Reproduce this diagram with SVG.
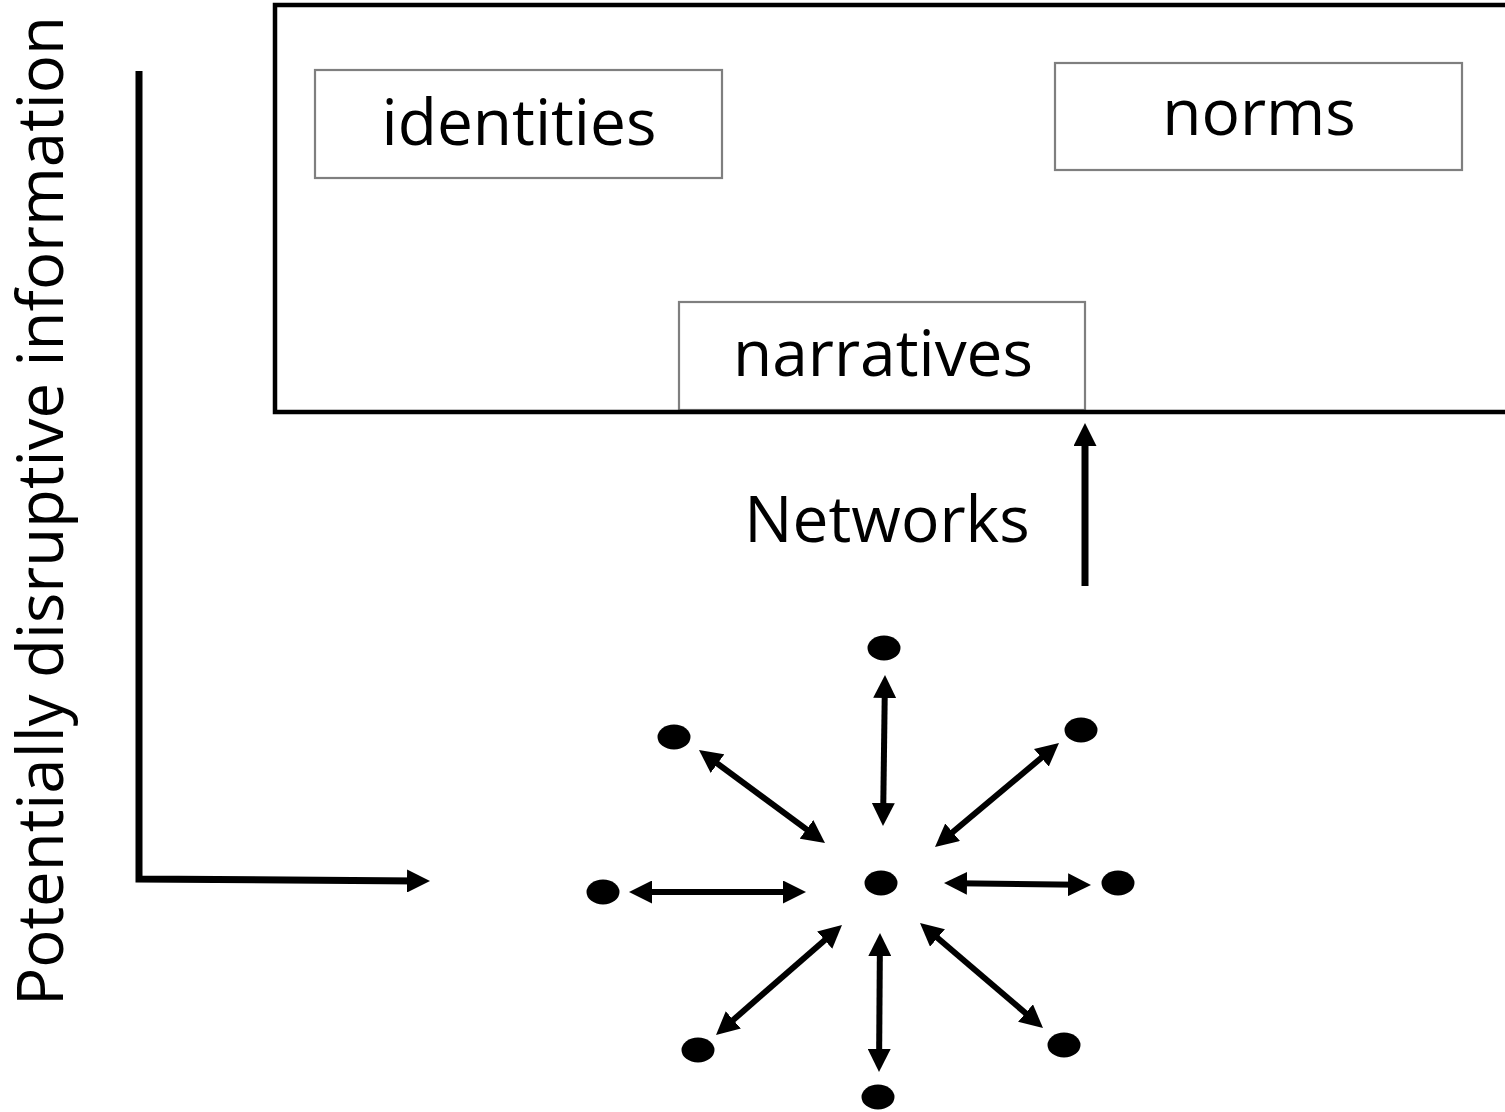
<svg xmlns="http://www.w3.org/2000/svg" width="1505" height="1112" viewBox="0 0 1505 1112">
  <style>
    .lbl { font-family: "Open Sans", "Liberation Sans", sans-serif; font-size: 64px; fill: #000; }
    .box { fill: #fff; stroke: #7f7f7f; stroke-width: 2.2; }
    .frame { fill: none; stroke: #000; stroke-width: 4.5; }
    .dot { fill: #000; }
    .link { stroke: #000; stroke-width: 6; fill: none; marker-start: url(#head); marker-end: url(#head); }
    .one { stroke: #000; stroke-width: 7; fill: none; stroke-linejoin: miter; marker-end: url(#head); }
  </style>
  <defs>
    <marker id="head" viewBox="0 0 23 23" refX="11" refY="11.5" markerWidth="23" markerHeight="23" markerUnits="userSpaceOnUse" orient="auto-start-reverse">
      <path d="M0,0 L23,11.5 L0,23 Z" fill="#000"/>
    </marker>
  </defs>

  <!-- vertical axis label -->
  <g id="axis-label">
    <text class="lbl" transform="translate(63,511) rotate(-90)" text-anchor="middle" textLength="990" lengthAdjust="spacingAndGlyphs">Potentially disruptive information</text>
  </g>

  <!-- concept boxes -->
  <g id="identities">
    <rect class="box" x="315" y="70" width="407" height="108"/>
    <text class="lbl" x="519" y="145" text-anchor="middle">identities</text>
  </g>
  <g id="norms">
    <rect class="box" x="1055" y="63" width="407" height="107"/>
    <text class="lbl" x="1259" y="135" text-anchor="middle">norms</text>
  </g>
  <g id="narratives">
    <rect class="box" x="679" y="302" width="406" height="108"/>
    <text class="lbl" x="883" y="376" text-anchor="middle">narratives</text>
  </g>

  <!-- enclosing frame, open to the right edge -->
  <g id="frame">
    <rect class="frame" x="275" y="5" width="1300" height="407"/>
  </g>

  <g id="networks-label">
    <text class="lbl" x="887" y="542" text-anchor="middle">Networks</text>
  </g>

  <!-- network nodes -->
  <g id="hub"><ellipse class="dot" cx="881" cy="883" rx="16.5" ry="12.5"/></g>
  <g id="n-top"><ellipse class="dot" cx="884" cy="648" rx="16.5" ry="12.5"/></g>
  <g id="n-top-left"><ellipse class="dot" cx="674" cy="737" rx="16.5" ry="12.5"/></g>
  <g id="n-top-right"><ellipse class="dot" cx="1081" cy="730" rx="16.5" ry="12.5"/></g>
  <g id="n-left"><ellipse class="dot" cx="603" cy="892" rx="16.5" ry="12.5"/></g>
  <g id="n-right"><ellipse class="dot" cx="1118" cy="883" rx="16.5" ry="12.5"/></g>
  <g id="n-bottom-left"><ellipse class="dot" cx="698" cy="1050" rx="16.5" ry="12.5"/></g>
  <g id="n-bottom"><ellipse class="dot" cx="878" cy="1097" rx="16.5" ry="12.5"/></g>
  <g id="n-bottom-right"><ellipse class="dot" cx="1064" cy="1045" rx="16.5" ry="12.5"/></g>

  <!-- connectors -->
  <g id="connectors">
    <path class="one" d="M139,71 L139,879 L418,881"/>
    <line class="one" x1="1085" y1="586" x2="1085" y2="435"/>
    <line class="link" x1="884.84" y1="687" x2="883.16" y2="814"/>
    <line class="link" x1="708.66" y1="757.13" x2="815.34" y2="835.87"/>
    <line class="link" x1="1049.8" y1="750.7" x2="944.2" y2="839.3"/>
    <line class="link" x1="641" y1="892" x2="794" y2="892"/>
    <line class="link" x1="956" y1="883.16" x2="1079" y2="884.84"/>
    <line class="link" x1="832.96" y1="932.89" x2="725.04" y2="1027.11"/>
    <line class="link" x1="879.9" y1="945" x2="879.1" y2="1060"/>
    <line class="link" x1="929.13" y1="930.79" x2="1033.87" y2="1020.21"/>
  </g>
</svg>
